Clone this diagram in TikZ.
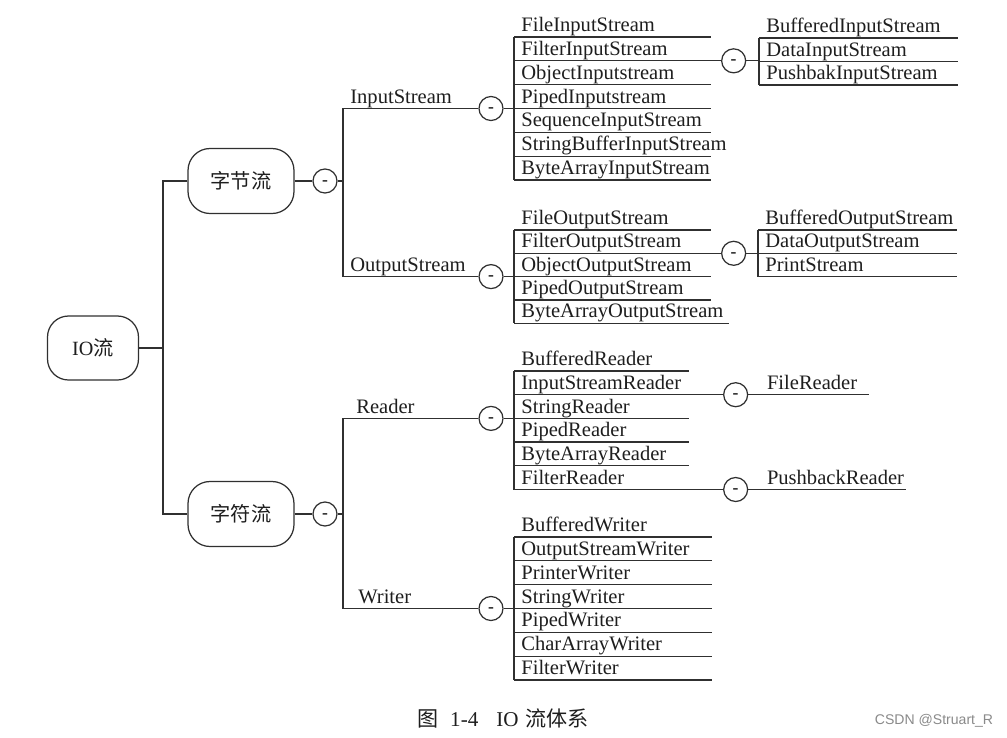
\documentclass[tikz,border=0pt]{standalone}
\usepackage{fontspec}
\setmainfont{Liberation Serif}
\newfontfamily\cjk{Noto Sans CJK SC}
\newfontfamily\wmfont{Liberation Sans}
\usepackage{tikz}
\usetikzlibrary{positioning, calc}
\definecolor{inkline}{HTML}{303030}
\definecolor{inktext}{HTML}{1E1E1E}
\definecolor{wmgray}{HTML}{8A8A8A}
\tikzstyle{rootbox}=[rectangle,draw=inkline,line width=0.7pt,
  rounded corners=0.42cm,minimum width=1.82cm,minimum height=1.28cm,
  font=\fontsize{11.5}{13}\selectfont,text=inktext]
\tikzstyle{groupbox}=[rootbox,minimum width=2.12cm,minimum height=1.3cm,
  rounded corners=0.44cm]
\tikzstyle{fold}=[circle,draw=inkline,line width=0.7pt,fill=white,
  minimum size=0.48cm,inner sep=0pt,text height=0.16cm,text depth=0cm,
  font=\fontsize{10}{10}\selectfont\bfseries,text=inktext]
\tikzstyle{kind}=[anchor=base west,inner sep=0pt,
  font=\fontsize{11.7}{14}\selectfont,text=inktext]
\tikzstyle{cls}=[anchor=south west,inner xsep=0.14cm,inner ysep=0pt,
  text depth=0.1cm,text width=3.64cm,align=left,
  font=\fontsize{11.7}{14}\selectfont,text=inktext]
\tikzstyle{tree}=[draw=inkline,line width=0.7pt]

\begin{document}
\begin{tikzpicture}[x=0.02cm,y=-0.02cm]
  \fill[white] (0,0) rectangle (1007,737);
  \useasboundingbox (0,0) rectangle (1007,737);

  % root and the two families
  \node[rootbox] (io) at (93,348) {IO{\cjk 流}};
  \coordinate (trunk) at (163,348);
  \node[groupbox] (byte) at (241,181) {{\cjk 字节流}};
  \node[groupbox] (char) at (241,514) {{\cjk 字符流}};
  \node[fold] (foldbyte) at (325,181) {-};
  \node[fold] (foldchar) at (325,514) {-};
  \coordinate (bytebar) at (343,181);
  \coordinate (charbar) at (343,514);
  \draw[tree] (io) -- (trunk);
  \draw[tree] (byte) -| (trunk) |- (char);
  \draw[tree] (byte) -- (foldbyte) -- (bytebar);
  \draw[tree] (char) -- (foldchar) -- (charbar);

  % base classes
  \node[fold] (foldin) at (491,108.5) {-};
  \node[fold] (foldout) at (491,276.6) {-};
  \node[fold] (foldrd) at (491,418.4) {-};
  \node[fold] (foldwr) at (491,608.5) {-};
  \draw[tree] (foldin) -| (bytebar) |- (foldout);
  \draw[tree] (foldrd) -| (charbar) |- (foldwr);
  \node[kind] (lblin) at (350,103) {InputStream};
  \node[kind] (lblout) at (350,271) {OutputStream};
  \node[kind] (lblrd) at (356,413) {Reader};
  \node[kind] (lblwr) at (358,603) {Writer};

  % InputStream
  \foreach \cls [count=\i] in {FileInputStream,FilterInputStream,ObjectInputstream,
      PipedInputstream,SequenceInputStream,StringBufferInputStream,ByteArrayInputStream} {
    \node[cls] (in\i) at (514,{37+23.83*(\i-1)}) {\mbox{\cls}};
    \draw[tree] (in\i.south west) -- (in\i.south east);
  }
  \draw[tree] (in1.south west) -- (in7.south west);
  \draw[tree] (foldin) -- (foldin -| in1.south west);
  \node[fold] (foldfilterin) at ([xshift=0.46cm]in2.south east) {-};
  \draw[tree] (in2.south east) -- (foldfilterin);
  \foreach \cls [count=\i] in {BufferedInputStream,DataInputStream,PushbakInputStream} {
    \node[cls,text width=3.68cm] (bin\i) at (759,{38+23.5*(\i-1)}) {\mbox{\cls}};
    \draw[tree] (bin\i.south west) -- (bin\i.south east);
  }
  \draw[tree] (bin1.south west) -- (bin3.south west);
  \draw[tree] (foldfilterin) -- (foldfilterin -| bin1.south west);

  % OutputStream
  \foreach \cls [count=\i] in {FileOutputStream,FilterOutputStream,ObjectOutputStream,
      PipedOutputStream} {
    \node[cls] (out\i) at (514,{230+23.3*(\i-1)}) {\mbox{\cls}};
    \draw[tree] (out\i.south west) -- (out\i.south east);
  }
  \node[cls,text width=4cm] (out5) at (514,323.2) {\mbox{ByteArrayOutputStream}};
  \draw[tree] (out5.south west) -- (out5.south east);
  \draw[tree] (out1.south west) -- (out5.south west);
  \draw[tree] (foldout) -- (foldout -| out1.south west);
  \node[fold] (foldfilterout) at ([xshift=0.46cm]out2.south east) {-};
  \draw[tree] (out2.south east) -- (foldfilterout);
  \foreach \cls [count=\i] in {BufferedOutputStream,DataOutputStream,PrintStream} {
    \node[cls,text width=3.68cm] (bout\i) at (758,{230+23.3*(\i-1)}) {\mbox{\cls}};
    \draw[tree] (bout\i.south west) -- (bout\i.south east);
  }
  \draw[tree] (bout1.south west) -- (bout3.south west);
  \draw[tree] (foldfilterout) -- (foldfilterout -| bout1.south west);

  % Reader
  \foreach \cls [count=\i] in {BufferedReader,InputStreamReader,StringReader,
      PipedReader,ByteArrayReader,FilterReader} {
    \node[cls,text width=3.2cm] (rd\i) at (514,{371+23.7*(\i-1)}) {\mbox{\cls}};
    \draw[tree] (rd\i.south west) -- (rd\i.south east);
  }
  \draw[tree] (rd1.south west) -- (rd6.south west);
  \draw[tree] (foldrd) -- (foldrd -| rd1.south west);
  \node[fold] (foldisr) at ([xshift=0.94cm]rd2.south east) {-};
  \node[fold] (foldfr) at ([xshift=0.94cm]rd6.south east) {-};
  \node[cls,text width=1.9cm] (filerd) at ([xshift=0.48cm]foldisr.center) {FileReader};
  \node[cls,text width=2.64cm] (pushrd) at ([xshift=0.48cm]foldfr.center) {PushbackReader};
  \draw[tree] (rd2.south east) -- (foldisr) -- (filerd.south east);
  \draw[tree] (rd6.south east) -- (foldfr) -- (pushrd.south east);

  % Writer
  \foreach \cls [count=\i] in {BufferedWriter,OutputStreamWriter,PrinterWriter,
      StringWriter,PipedWriter,CharArrayWriter,FilterWriter} {
    \node[cls,text width=3.66cm] (wr\i) at (514,{537+23.83*(\i-1)}) {\mbox{\cls}};
    \draw[tree] (wr\i.south west) -- (wr\i.south east);
  }
  \draw[tree] (wr1.south west) -- (wr7.south west);
  \draw[tree] (foldwr) -- (foldwr -| wr1.south west);

  % caption
  \node[font=\fontsize{12}{13}\selectfont,text=inktext] (caption) at (503,718)
    {{\cjk 图}\hspace{0.24cm}1-4\hspace{0.36cm}IO\hspace{0.14cm}{\cjk 流体系}};
  \node[font=\wmfont\fontsize{8}{9}\selectfont,text=wmgray] (wm) at (934,721) {CSDN @Struart\_R};
\end{tikzpicture}
\end{document}
